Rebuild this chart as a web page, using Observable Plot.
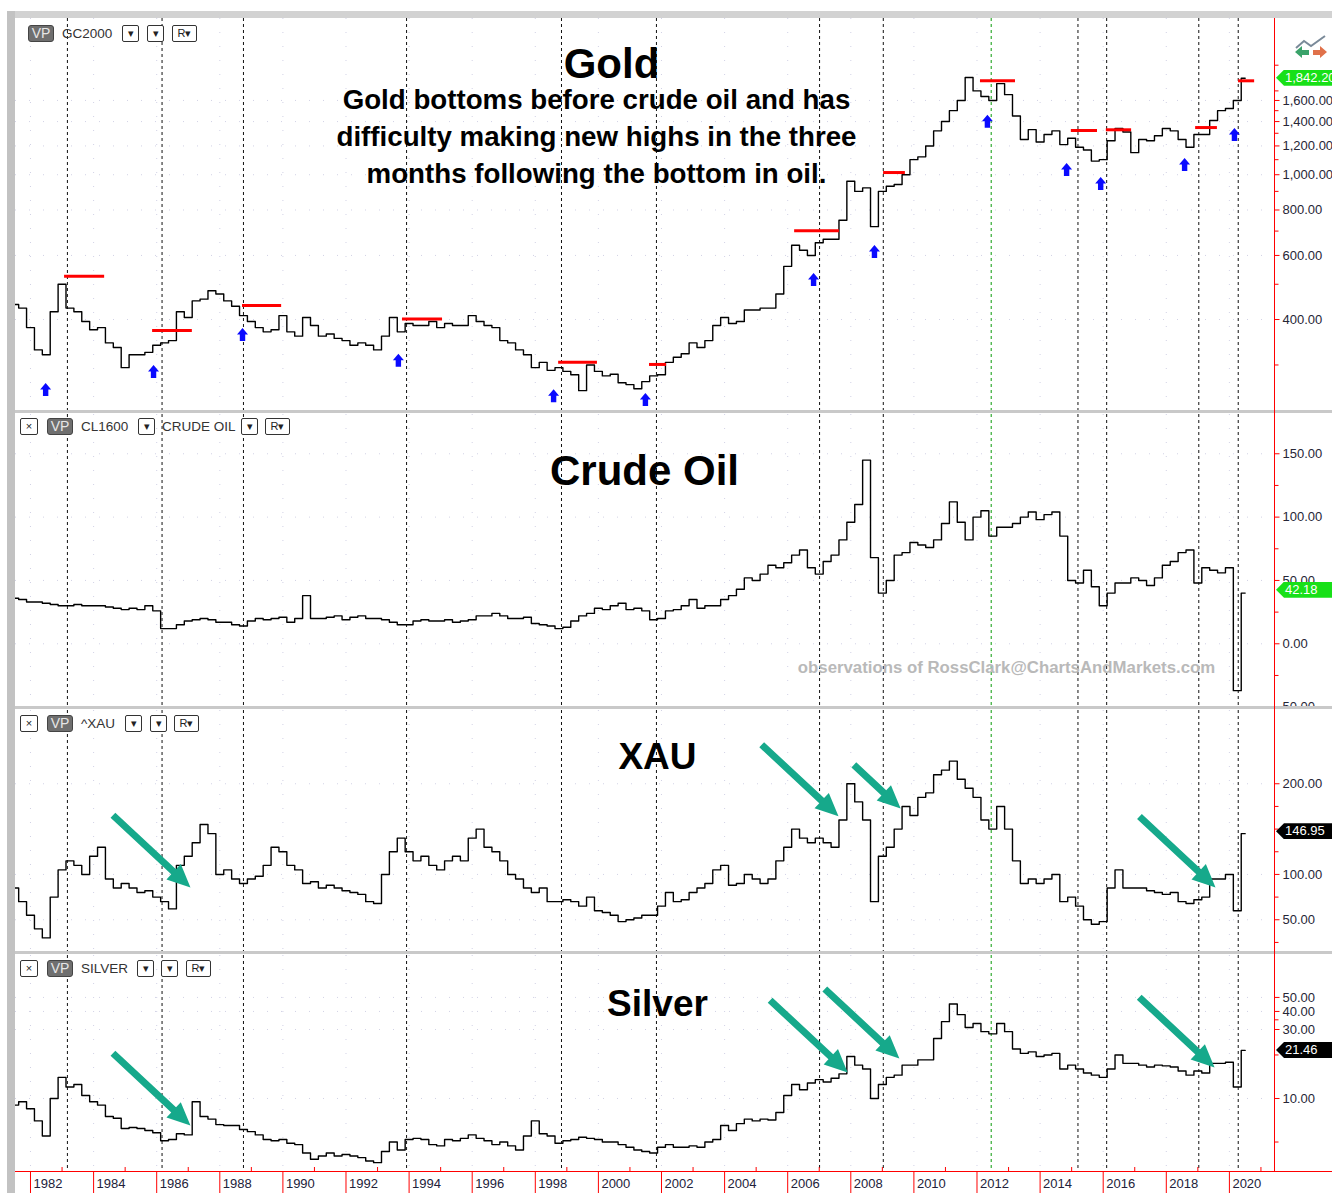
<!DOCTYPE html>
<html><head><meta charset="utf-8">
<script src="https://cdn.jsdelivr.net/npm/d3@7"></script>
<script src="https://cdn.jsdelivr.net/npm/@observablehq/plot@0.6"></script>
<style>
body{margin:0;background:#fff;font-family:"Liberation Sans",Arial,sans-serif;}
#root{position:relative;width:1332px;height:1193px;overflow:hidden;background:#fff;}
#root svg{position:absolute;left:0;}
.band{position:absolute;background:#c9c9c9;}
.box{position:absolute;box-sizing:border-box;border:1px solid #333;border-radius:2px;background:#fff;font-size:11px;color:#222;text-align:center;line-height:15px;white-space:nowrap;}
.vp{background:#6f6f6f;border-color:#444;color:#e6e6e6;font-size:14px;border-radius:3px;}
.lbl{position:absolute;font-size:13.5px;color:#333;line-height:17px;white-space:nowrap;}
.tag{position:absolute;left:1276px;height:16px;line-height:16px;padding-left:9px;padding-right:30px;color:#fff;font-size:13px;white-space:nowrap;clip-path:polygon(0 50%,8px 0,100% 0,100% 100%,8px 100%);}
</style></head>
<body><div id="root"></div>
<script>
// ---------- DATA (quarterly readings, first value = Q3 1981) ----------
const startYear = 1981.5, stepYears = 0.25;

const gold = [
  440, 430,                 // 1981
  380, 330, 320, 420,       // 1982
  500, 430, 420, 395,       // 1983
  375, 380, 345, 335,       // 1984
  295, 320, 320, 325,       // 1985
  340, 345, 350, 420,       // 1986
  405, 450, 455, 480,       // 1987
  470, 450, 435, 410,       // 1988
  395, 380, 370, 375,       // 1989
  410, 370, 360, 405,       // 1990
  385, 360, 365, 355,       // 1991
  350, 340, 345, 340,       // 1992
  330, 360, 405, 370,       // 1993
  390, 385, 385, 395,       // 1994
  380, 390, 385, 385,       // 1995
  410, 395, 385, 380,       // 1996
  350, 345, 330, 320,       // 1997
  295, 305, 290, 295,       // 1998
  288, 282, 255, 300,       // 1999
  288, 280, 283, 268,       // 2000
  265, 258, 270, 280,       // 2001
  282, 305, 315, 322,       // 2002
  345, 335, 350, 385,       // 2003
  405, 390, 395, 425,       // 2004
  425, 430, 430, 470,       // 2005
  560, 640, 620, 600,       // 2006
  650, 665, 665, 750,       // 2007
  960, 900, 920, 720,       // 2008
  900, 930, 940, 1000,      // 2009
  1100, 1120, 1200, 1320,   // 2010
  1400, 1500, 1600, 1850,   // 2011
  1700, 1640, 1600, 1780,   // 2012
  1660, 1450, 1250, 1330,   // 2013
  1230, 1290, 1320, 1210,   // 2014
  1260, 1190, 1170, 1090,   // 2015
  1100, 1240, 1340, 1310,   // 2016
  1150, 1250, 1240, 1280,   // 2017
  1340, 1320, 1250, 1190,   // 2018
  1290, 1290, 1410, 1500,   // 2019
  1520, 1600, 1842          // 2020
];

const crude = [
  36, 35,
  33, 33, 32, 31,
  30, 30, 31, 30,
  30, 30, 29, 28,
  27, 28, 27, 30,
  26, 12, 12, 15,
  18, 19, 20, 19,
  17, 17, 15, 14,
  18, 20, 19, 20,
  21, 17, 20, 38,
  20, 20, 21, 22,
  19, 21, 22, 20,
  20, 19, 17, 15,
  15, 18, 19, 18,
  18, 19, 17, 18,
  19, 22, 22, 24,
  22, 20, 20, 21,
  16, 15, 14, 12,
  13, 18, 22, 24,
  28, 27, 30, 32,
  27, 28, 26, 19,
  20, 26, 27, 30,
  35, 28, 30, 30,
  35, 38, 43, 52,
  50, 55, 62, 60,
  64, 70, 74, 60,
  55, 65, 70, 82,
  96, 110, 145, 68,
  40, 50, 70, 72,
  80, 78, 76, 82,
  95, 112, 96, 82,
  100, 105, 85, 92,
  92, 95, 100, 104,
  98, 102, 104, 85,
  50, 48, 58, 45,
  30, 40, 48, 48,
  52, 50, 46, 52,
  62, 65, 72, 74,
  48, 60, 58, 56,
  60, -37, 40
];

const xau = [
  85, 70,
  55, 40, 30, 75,
  105, 115, 110, 100,
  120, 130, 95, 85,
  90, 85, 80, 82,
  75, 70, 62, 110,
  120, 135, 155, 145,
  100, 105, 95, 90,
  95, 98, 110, 130,
  125, 110, 105, 90,
  92, 85, 88, 85,
  82, 80, 78, 70,
  68, 100, 125, 140,
  125, 115, 120, 110,
  105, 115, 120, 115,
  140, 150, 130, 125,
  115, 100, 95, 85,
  80, 85, 70, 70,
  72, 70, 65, 75,
  60, 58, 55, 48,
  50, 52, 55, 55,
  65, 80, 70, 72,
  80, 85, 90, 105,
  110, 88, 90, 100,
  95, 90, 95, 115,
  130, 150, 140, 135,
  140, 135, 130, 160,
  200, 180, 160, 70,
  120, 130, 150, 175,
  165, 185, 190, 210,
  215, 225, 205, 195,
  185, 160, 150, 175,
  150, 115, 90, 95,
  90, 95, 100, 70,
  75, 65, 50, 45,
  48, 85, 105, 85,
  85, 85, 82, 80,
  78, 80, 70, 68,
  72, 75, 95, 95,
  100, 60, 145
];

const silver = [
  9.0, 9.5,
  8.5, 7.0, 5.5, 10.0,
  14.0, 12.0, 12.5, 10.5,
  9.5, 9.0, 7.5, 7.3,
  6.2, 6.3, 6.2, 6.0,
  5.8, 5.1, 5.2, 5.7,
  5.6, 9.5, 7.5, 7.2,
  6.6, 6.5, 6.5, 6.1,
  5.9, 5.6, 5.2, 5.1,
  5.2, 4.9, 4.8, 4.2,
  3.8, 4.0, 4.2, 4.0,
  4.1, 4.0, 3.9, 3.7,
  3.6, 4.3, 5.0, 4.4,
  5.2, 5.3, 5.2, 4.8,
  4.7, 5.2, 5.1, 5.3,
  5.6, 5.3, 5.1, 4.8,
  5.0, 4.7, 4.4, 5.5,
  7.0, 5.7, 5.5, 4.9,
  5.1, 5.2, 5.4, 5.3,
  5.2, 5.0, 5.0, 4.8,
  4.6, 4.4, 4.3, 4.2,
  4.6, 4.8, 4.6, 4.6,
  4.7, 4.6, 5.0, 5.2,
  6.5, 6.0, 6.7, 7.2,
  7.0, 7.2, 7.1, 8.0,
  10.5, 12.5, 11.5, 12.8,
  13.5, 13.0, 13.8, 14.8,
  19.5, 17.0, 16.0, 10.0,
  12.5, 14.0, 14.5, 17.0,
  17.0, 18.5, 18.5, 26.0,
  34.0, 45.0, 38.0, 31.0,
  33.0, 29.0, 28.0, 33.0,
  29.0, 22.0, 20.5, 21.0,
  19.5, 20.0, 20.5, 16.0,
  17.0, 16.0, 15.0, 14.5,
  14.0, 16.0, 20.0, 17.5,
  17.5, 17.0, 16.5, 17.0,
  16.8, 16.5, 15.5, 14.5,
  15.5, 15.0, 17.5, 17.5,
  17.8, 12.0, 21.5
];

// vertical markers (oil bottoms), green marker
const oilBottomDates = [1983.17, 1986.17, 1988.75, 1993.92, 1998.83, 2001.84, 2007.01, 2009.03, 2015.20, 2016.11, 2019.03, 2020.28];
const greenMarkerDates = [2012.45];

// gold: red resistance segments
const redStart = [1983.08, 1985.87, 1988.72, 1993.79, 1998.74, 2001.62, 2006.22, 2009.04, 2012.11, 2014.99, 2016.10, 2018.93, 2020.29];
const redEnd   = [1984.35, 1987.13, 1989.96, 1995.06, 1999.97, 2002.16, 2007.64, 2009.73, 2013.22, 2015.82, 2016.90, 2019.62, 2020.80];
const redLevel = [526, 373, 437, 401, 305, 301, 702, 1014, 1812, 1323, 1329, 1348, 1812];

// gold: blue arrows
const blueDates  = [1982.48, 1985.90, 1988.72, 1993.66, 1998.58, 2001.49, 2006.82, 2008.75, 2012.33, 2014.84, 2015.92, 2018.58, 2020.16];
const blueValues = [257, 288, 364, 309, 247, 241, 515, 615, 1402, 1033, 946, 1067, 1290];

// green arrows (tips)
const xauArrowDates = [1987.07, 2007.61, 2009.58, 2019.56];
const xauArrowValues = [85.6, 164.1, 172.7, 85.6];
const xauArrowLen = [106, 105, 64, 104];
const silverArrowDates = [1987.07, 2007.90, 2009.54, 2019.53];
const silverArrowValues = [6.5, 15.13, 18.9, 16.38];
const silverArrowLen = [106, 106, 102, 103];

// axis ticks
const yearTicks = [1982,1984,1986,1988,1990,1992,1994,1996,1998,2000,2002,2004,2006,2008,2010,2012,2014,2016,2018,2020];
const minorYears = [1983,1985,1987,1989,1991,1993,1995,1997,1999,2001,2003,2005,2007,2009,2011,2013,2015,2017,2019,2021];
const goldTicks = [400,600,800,1000,1200,1400,1600];
const goldMinor = [300,500,700,900,1100,1300,1500,1700,2000];
const crudeTicks = [-50,0,50,100,150];
const crudeMinor = [-25,25,75,125];
const xauTicks = [50,100,200];
const xauMinor = [25,75,125,150,175];
const silverTicks = [10,30,40,50];
const silverMinor = [5,20,35];

// last values shown in tags
const lastGold = 1842.2, lastCrude = 42.18, lastXau = 146.95, lastSilver = 21.46;

// ---------- BUILD ----------
const rows = gold.map((g, i) => ({t: startYear + i * stepYears, gold: g, crude: crude[i], xau: xau[i], silver: silver[i]}));
const root = document.getElementById("root");
const X0 = 1981.5246, X1 = 2021.4295;
const FONT = "Liberation Sans, Arial, sans-serif";

const blueArrow = {draw(ctx, l) {
  const hw = 5.5, sw = 2.7, hh = 6.5;
  ctx.moveTo(-sw, 0); ctx.lineTo(-sw, -(l - hh)); ctx.lineTo(-hw, -(l - hh));
  ctx.lineTo(0, -l); ctx.lineTo(hw, -(l - hh)); ctx.lineTo(sw, -(l - hh)); ctx.lineTo(sw, 0); ctx.closePath();
}};
const tealArrow = {draw(ctx, l) {
  const hw = 10.5, sw = 3.5, hh = 23;
  ctx.moveTo(-sw, 0); ctx.lineTo(-sw, -(l - hh)); ctx.lineTo(-hw, -(l - hh));
  ctx.lineTo(0, -l); ctx.lineTo(hw, -(l - hh)); ctx.lineTo(sw, -(l - hh)); ctx.lineTo(sw, 0); ctx.closePath();
}};
const tickShape = {draw(ctx, l) { ctx.moveTo(0, 0); ctx.lineTo(0, -l); }};

function rightAxis(major, minor, fmt) {
  return [
    Plot.vector(major, {y: d => d, frameAnchor: "right", length: 5, rotate: 90, anchor: "start", shape: tickShape, stroke: "red", strokeWidth: 1, strokeLinecap: "butt"}),
    Plot.vector(minor, {y: d => d, frameAnchor: "right", length: 4, rotate: 90, anchor: "start", shape: tickShape, stroke: "red", strokeWidth: 1, strokeLinecap: "butt"}),
    Plot.text(major, {y: d => d, frameAnchor: "right", text: fmt, textAnchor: "start", dx: 8, fontSize: 13, fill: "#262636", fontFamily: FONT})
  ];
}

function panel({top, height, type, domain, major, minor, fmt, key, extra = [], front = []}) {
  const svg = Plot.plot({
    width: 1332, height, marginLeft: 15, marginRight: 58, marginTop: 0, marginBottom: 0,
    style: {background: "transparent", fontFamily: FONT, overflow: "hidden"},
    x: {type: "linear", domain: [X0, X1], axis: null},
    y: {type, domain, axis: null},
    length: {type: "identity"},
    marks: [
      Plot.gridY(major, {stroke: "#b4b4d4", strokeOpacity: 0.6, strokeDasharray: "1,13"}),
      Plot.gridX(yearTicks, {stroke: "#b4b4d4", strokeOpacity: 0.6, strokeDasharray: "1,13"}),
      Plot.ruleX(oilBottomDates, {stroke: "#111", strokeWidth: 1, strokeDasharray: "3,3"}),
      Plot.ruleX(greenMarkerDates, {stroke: "#0a9a0a", strokeWidth: 1, strokeDasharray: "3,3"}),
      ...rightAxis(major, minor, fmt),
      ...extra,
      Plot.line(rows, {x: "t", y: key, curve: "step", stroke: "#000", strokeWidth: 1.4, clip: true}),
      ...front
    ]
  });
  svg.style.top = top + "px";
  root.appendChild(svg);
  return svg;
}

const titleOpts = (dx, dy, size) => ({frameAnchor: "top-left", dx, dy, textAnchor: "middle", lineAnchor: "bottom", fontSize: size, fontWeight: "bold", fill: "#000", fontFamily: FONT});

// Gold panel
const gTop = 18;
const goldSvg = panel({
  top: gTop, height: 392, type: "log", domain: [224.9, 2687.9], major: goldTicks, minor: goldMinor,
  fmt: d3.format(",.2f"), key: "gold",
  extra: [
    Plot.text(["Gold"], titleOpts(611 - 15, 77 - gTop, 42)),
    Plot.text(["Gold bottoms before crude oil and has\ndifficulty making new highs in the three\nmonths following the bottom in oil."],
      {...titleOpts(596 - 15, 182 - gTop, 27.7), lineHeight: 1.32}),
  ],
  front: [
    Plot.ruleY(redLevel.map((v, i) => ({v, a: redStart[i], b: redEnd[i]})), {y: "v", x1: "a", x2: "b", stroke: "#ff0000", strokeWidth: 3}),
    Plot.vector(blueDates.map((t, i) => ({t, v: blueValues[i]})), {x: "t", y: "v", length: 13, rotate: 0, anchor: "middle", shape: blueArrow, fill: "#0a0aff", stroke: "none"})
  ]
});

// Crude panel
const cTop = 414;
const crudeSvg = panel({
  top: cTop, height: 292, type: "linear", domain: [-49.5, 181.0], major: crudeTicks, minor: crudeMinor,
  fmt: d => d3.format(".2f")(Math.abs(d)), key: "crude",
  extra: [
    Plot.text(["Crude Oil"], titleOpts(644 - 15, 484 - cTop, 42)),
    Plot.text(["observations of RossClark@ChartsAndMarkets.com"], {...titleOpts(1006 - 15, 672 - cTop, 16.8), fill: "#b9b9b9"})
  ]
});

// XAU panel
const xTop = 710;
const xauSvg = panel({
  top: xTop, height: 241, type: "linear", domain: [15.0, 280.8], major: xauTicks, minor: xauMinor,
  fmt: d3.format(".2f"), key: "xau",
  extra: [Plot.text(["XAU"], titleOpts(657 - 15, 768 - xTop, 37))],
  front: [
    Plot.vector(xauArrowDates.map((t, i) => ({t, v: xauArrowValues[i], l: xauArrowLen[i]})), {x: "t", y: "v", length: "l", rotate: 133, anchor: "end", shape: tealArrow, fill: "#16a98b", stroke: "none"})
  ]
});
// Silver panel
const sTop = 955;
const silverSvg = panel({
  top: sTop, height: 215, type: "log", domain: [3.177, 97.48], major: silverTicks, minor: silverMinor,
  fmt: d3.format(".2f"), key: "silver",
  extra: [Plot.text(["Silver"], titleOpts(657 - 15, 1015 - sTop, 37))],
  front: [
    Plot.vector(silverArrowDates.map((t, i) => ({t, v: silverArrowValues[i], l: silverArrowLen[i]})), {x: "t", y: "v", length: "l", rotate: 133, anchor: "end", shape: tealArrow, fill: "#16a98b", stroke: "none"})
  ]
});

// X axis
const axisSvg = Plot.plot({
  width: 1332, height: 28, marginLeft: 15, marginRight: 58, marginTop: 0, marginBottom: 0,
  style: {background: "transparent", fontFamily: FONT},
  x: {type: "linear", domain: [X0, X1], axis: null},
  y: {domain: [0, 28], range: [0, 28], axis: null},
  marks: [
    Plot.ruleX(yearTicks, {x: d => d, y1: 6, y2: 28, stroke: "red"}),
    Plot.ruleX(minorYears, {x: d => d, y1: 2, y2: 6, stroke: "red"}),
    Plot.text(yearTicks, {x: d => d, y: 18.5, text: d => String(d), textAnchor: "start", dx: 3, fontSize: 13, fill: "#22223a"})
  ]
});
axisSvg.style.top = "1165px";
root.appendChild(axisSvg);

// frame decorations
function div(cls, x, y, w, h, extra = {}) {
  const d = document.createElement("div");
  d.className = cls;
  Object.assign(d.style, {left: x + "px", top: y + "px", width: w + "px", height: h + "px"}, extra);
  root.appendChild(d);
  return d;
}
div("band", 7, 11, 1325, 7, {background: "#d2d2d2"});
div("band", 7, 11, 8, 1182, {background: "#c2c2c2"});
div("band", 15, 410, 1317, 3, {});
div("band", 15, 706, 1317, 3, {});
div("band", 15, 951, 1317, 3, {});
const xr = axisSvg.scale("x").range[1];
div("band", xr - 0.5, 18, 1, 1153, {background: "#ff0000"});
div("band", 15, 1171, 1317, 1, {background: "#ff0000"});

// headers
function box(x, y, w, text, cls = "box") {
  const d = div(cls, x, y, w, 17);
  d.textContent = text;
  return d;
}
function lbl(x, y, text) {
  const d = document.createElement("div");
  d.className = "lbl"; d.textContent = text;
  d.style.left = x + "px"; d.style.top = y + "px";
  root.appendChild(d);
}
// gold
box(28, 25, 26, "VP", "box vp"); lbl(62, 25, "GC2000");
box(122, 25, 17, "▾"); box(147, 25, 17, "▾"); box(172, 25, 25, "R▾");
// crude
box(20, 418, 18, "×"); box(47, 418, 26, "VP", "box vp"); lbl(81, 418, "CL1600");
box(138, 418, 17, "▾"); lbl(162, 418, "CRUDE OIL"); box(241, 418, 17, "▾"); box(265, 418, 25, "R▾");
// xau
box(20, 715, 18, "×"); box(47, 715, 26, "VP", "box vp"); lbl(81, 715, "^XAU");
box(125, 715, 17, "▾"); box(150, 715, 17, "▾"); box(174, 715, 25, "R▾");
// silver
box(20, 960, 18, "×"); box(47, 960, 26, "VP", "box vp"); lbl(81, 960, "SILVER");
box(137, 960, 17, "▾"); box(161, 960, 17, "▾"); box(186, 960, 25, "R▾");

// value tags
function tag(svg, top, value, text, bg) {
  const y = top + svg.scale("y").apply(value);
  const d = document.createElement("div");
  d.className = "tag"; d.textContent = text;
  d.style.top = (y - 8) + "px"; d.style.background = bg;
  root.appendChild(d);
}
tag(goldSvg, gTop, lastGold, d3.format(",.2f")(lastGold), "#18e018");
tag(crudeSvg, cTop, lastCrude, d3.format(".2f")(lastCrude), "#18e018");
tag(xauSvg, xTop, lastXau, d3.format(".2f")(lastXau), "#000");
tag(silverSvg, sTop, lastSilver, d3.format(".2f")(lastSilver), "#000");

// small icon top right
const icon = document.createElementNS("http://www.w3.org/2000/svg", "svg");
icon.setAttribute("width", 36); icon.setAttribute("height", 26);
icon.style.cssText = "position:absolute;left:1293px;top:34px;";
icon.innerHTML = '<polyline points="3,14 11,7 18,12 32,2" fill="none" stroke="#7a8a99" stroke-width="2"/>' +
  '<polygon points="2,18 9,12 9,16 16,16 16,21 9,21 9,24" fill="#3aa36a"/>' +
  '<polygon points="34,18 27,12 27,16 20,16 20,21 27,21 27,24" fill="#e0714a"/>';
root.appendChild(icon);
</script>
</body></html>
